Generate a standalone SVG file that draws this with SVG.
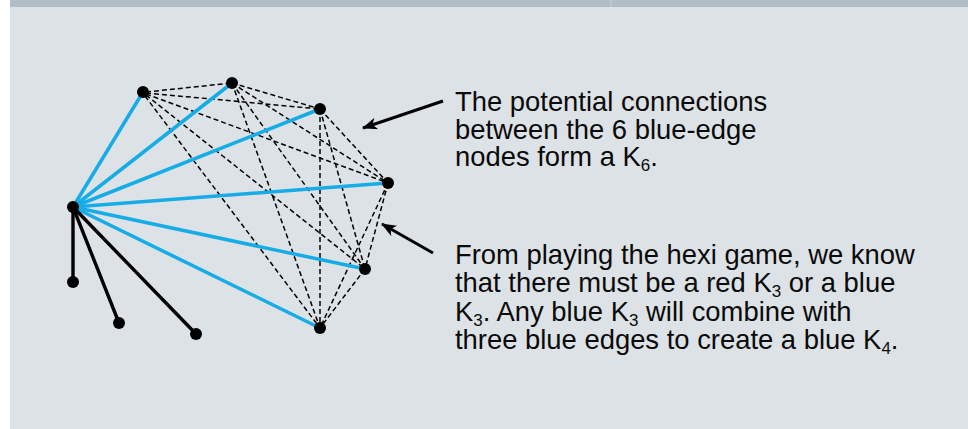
<svg xmlns="http://www.w3.org/2000/svg" width="968" height="429" viewBox="0 0 968 429">
<defs>
<style>
.bg{fill:#dde2e6}
.strip{fill:#b1bdc7}
.blue{stroke:#16ace6;stroke-width:3.5;stroke-linecap:round;fill:none}
.leaf{stroke:#000;stroke-width:3.4;stroke-linecap:round;fill:none}
.dash{stroke:#000;stroke-width:1.5;stroke-dasharray:5 3;fill:none}
.arrow{stroke:#000;stroke-width:3;fill:none}
.node{fill:#000}
.txt{font-family:"Liberation Sans",Arial,sans-serif;font-size:27.4px;fill:#0a0a0a}
.sub{font-size:17px;baseline-shift:-4.5px}
</style>
<marker id="ah" viewBox="0 0 15 12" refX="14" refY="6" markerWidth="15" markerHeight="12" markerUnits="userSpaceOnUse" orient="auto">
<path d="M0,0 L15,6 L0,12 L4,6 Z" fill="#000"/>
</marker>
</defs>
<rect x="0" y="0" width="968" height="429" fill="#ffffff"/>
<rect class="bg" x="10" y="0" width="958" height="429"/>
<rect class="strip" x="10" y="0" width="958" height="7"/>
<line x1="611" y1="0" x2="611" y2="7" stroke="#c9d1d8" stroke-width="1"/>
<g id="connectors">
<g id="dashed-k6">
<line class="dash" x1="146" y1="92" x2="232" y2="83"/>
<line class="dash" x1="146" y1="93" x2="320" y2="109"/>
<line class="dash" x1="146" y1="94" x2="388" y2="183"/>
<line class="dash" x1="146" y1="95" x2="365" y2="269"/>
<line class="dash" x1="145" y1="96" x2="320" y2="328"/>
<line class="dash" x1="232" y1="83" x2="320" y2="109"/>
<line class="dash" x1="232" y1="83" x2="388" y2="183"/>
<line class="dash" x1="232" y1="83" x2="365" y2="269"/>
<line class="dash" x1="232" y1="83" x2="320" y2="328"/>
<line class="dash" x1="320" y1="109" x2="388" y2="183"/>
<line class="dash" x1="320" y1="109" x2="365" y2="269"/>
<line class="dash" x1="320" y1="109" x2="320" y2="328"/>
<line class="dash" x1="388" y1="183" x2="365" y2="269"/>
<line class="dash" x1="388" y1="183" x2="320" y2="328"/>
<line class="dash" x1="365" y1="269" x2="320" y2="328"/>
</g>
<g id="blue-edges">
<line class="blue" x1="73" y1="207" x2="143" y2="92"/>
<line class="blue" x1="73" y1="207" x2="232" y2="83"/>
<line class="blue" x1="73" y1="207" x2="320" y2="109"/>
<line class="blue" x1="73" y1="207" x2="388" y2="183"/>
<line class="blue" x1="73" y1="207" x2="365" y2="269"/>
<line class="blue" x1="73" y1="207" x2="320" y2="328"/>
</g>
<g id="black-edges">
<line class="leaf" x1="73" y1="207" x2="73" y2="282"/>
<line class="leaf" x1="73" y1="207" x2="119" y2="323"/>
<line class="leaf" x1="73" y1="207" x2="196" y2="334"/>
</g>
<g id="arrows">
<line class="arrow" x1="443" y1="101" x2="363" y2="128" marker-end="url(#ah)"/>
<line class="arrow" x1="433" y1="253" x2="382" y2="224" marker-end="url(#ah)"/>
</g>
</g>
<g id="node-hub"><circle class="node" cx="73" cy="207" r="6"/></g>
<g id="node-a"><circle class="node" cx="143" cy="92" r="6"/></g>
<g id="node-b"><circle class="node" cx="232" cy="83" r="6"/></g>
<g id="node-c"><circle class="node" cx="320" cy="109" r="6"/></g>
<g id="node-d"><circle class="node" cx="388" cy="183" r="6"/></g>
<g id="node-e"><circle class="node" cx="365" cy="269" r="6"/></g>
<g id="node-f"><circle class="node" cx="320" cy="328" r="6"/></g>
<g id="node-leaf1"><circle class="node" cx="73" cy="282" r="6"/></g>
<g id="node-leaf2"><circle class="node" cx="119" cy="323" r="6"/></g>
<g id="node-leaf3"><circle class="node" cx="196" cy="334" r="6"/></g>
<g id="label-k6">
<text class="txt" x="455" y="111">The potential connections</text>
<text class="txt" x="455" y="138.5">between the 6 blue-edge</text>
<text class="txt" x="455" y="166">nodes form a K<tspan class="sub">6</tspan>.</text>
</g>
<g id="label-hexi">
<text class="txt" x="455" y="263.5">From playing the hexi game, we know</text>
<text class="txt" x="455" y="292">that there must be a red K<tspan class="sub">3</tspan> or a blue</text>
<text class="txt" x="455" y="320.5">K<tspan class="sub">3</tspan>. Any blue K<tspan class="sub">3</tspan> will combine with</text>
<text class="txt" x="455" y="349">three blue edges to create a blue K<tspan class="sub">4</tspan>.</text>
</g>
</svg>
